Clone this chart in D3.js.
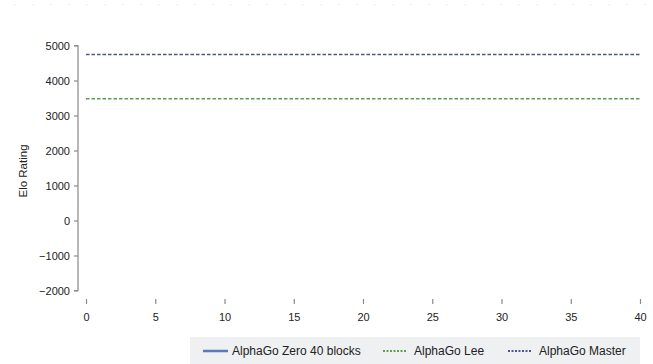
<!DOCTYPE html>
<html>
<head>
<meta charset="utf-8">
<script src="https://cdn.jsdelivr.net/npm/d3@7"></script>
<style>
body { margin: 0; background: #fff; }
svg { display: block; font-family: "Liberation Sans", Arial, sans-serif; }
</style>
</head>
<body>
<svg id="chart" width="653" height="364"></svg>
<script>
// series values (Elo), x in training days
var xDomain = [0, 40];
var yTicks = [-2000, -1000, 0, 1000, 2000, 3000, 4000, 5000];
var xTicks = [0, 5, 10, 15, 20, 25, 30, 35, 40];
var zeroDays = [];
var zeroElo = [];
var leeDays = [0, 40];
var leeElo = [3480, 3480];
var masterDays = [0, 40];
var masterElo = [4745, 4745];
var legendNames = ["AlphaGo Zero 40 blocks", "AlphaGo Lee", "AlphaGo Master"];
var legendColors = ["#5b7ab8", "#5f9e4f", "#4f5394"];

var svg = d3.select("#chart");

var x = d3.scaleLinear().domain(xDomain).range([86, 640]);
var y = d3.scaleLinear().domain([-2000, 5000]).range([290.5, 45.5]);

// faint frame remnants at top
svg.append("line").attr("x1", 14).attr("x2", 653).attr("y1", 4.5).attr("y2", 4.5)
	.attr("stroke", "#eceff2").attr("stroke-dasharray", "2,16");

var yaxis = d3.axisLeft(y).tickValues(yTicks).tickSize(4).tickPadding(4)
	.tickFormat(function(d){ return d < 0 ? "\u2212" + Math.abs(d) : d; });
var gy = svg.append("g").attr("transform", "translate(78,0)").call(yaxis);
gy.select(".domain").attr("d", "M-4,45.5H0V290.5H-4");

var xaxis = d3.axisTop(x).tickValues(xTicks).tickSize(5).tickFormat("");
var gx = svg.append("g").attr("transform", "translate(0,304)").call(xaxis);
gx.select(".domain").attr("d", "M86,299V304H640V299");
var xlabels = d3.axisBottom(x).tickValues(xTicks).tickSize(0).tickPadding(9);
var gxl = svg.append("g").attr("transform", "translate(0,304)").call(xlabels);
gxl.select(".domain").remove();

[gy, gx, gxl].forEach(function(g){
	g.selectAll(".domain, line").attr("stroke", "#8a8a8a").attr("stroke-width", 1.2);
	g.selectAll("text").attr("fill", "#222").attr("font-size", 11)
		.attr("font-family", "Liberation Sans, Arial, sans-serif");
});

svg.append("text")
	.attr("transform", "translate(27,171) rotate(-90)")
	.attr("text-anchor", "middle")
	.attr("font-size", 11.5).attr("fill", "#222")
	.text("Elo Rating");

var line = d3.line().x(function(d){ return x(d[0]); }).y(function(d){ return y(d[1]); });

svg.append("path").datum(d3.zip(zeroDays, zeroElo))
	.attr("d", line).attr("fill", "none").attr("stroke", legendColors[0]).attr("stroke-width", 2);
svg.append("path").datum(d3.zip(leeDays, leeElo))
	.attr("d", line).attr("fill", "none").attr("stroke", legendColors[1])
	.attr("stroke-width", 1.6).attr("stroke-dasharray", "3.5,2");
svg.append("path").datum(d3.zip(masterDays, masterElo))
	.attr("d", line).attr("fill", "none").attr("stroke", legendColors[2])
	.attr("stroke-width", 1.6).attr("stroke-dasharray", "3.5,2");

// legend
svg.append("rect").attr("x", 190).attr("y", 337).attr("width", 450).attr("height", 27)
	.attr("fill", "#eef0f2");
var legX = [203, 383, 508];
var dashes = [null, "2,1.5", "2,1.5"];
var leg = svg.selectAll(".leg").data(legendNames).enter().append("g")
	.attr("transform", function(d, i){ return "translate(" + legX[i] + ",351)"; });
leg.append("line").attr("x1", 0).attr("x2", function(d, i){ return i === 0 ? 25 : 23; })
	.attr("y1", 0).attr("y2", 0)
	.attr("stroke", function(d, i){ return legendColors[i]; })
	.attr("stroke-width", function(d, i){ return i === 0 ? 2.5 : 2; })
	.attr("stroke-dasharray", function(d, i){ return dashes[i]; });
leg.append("text").attr("x", function(d, i){ return i === 0 ? 29 : 31; }).attr("y", 4)
	.attr("font-size", 12).attr("fill", "#222").text(function(d){ return d; });
</script>
</body>
</html>
